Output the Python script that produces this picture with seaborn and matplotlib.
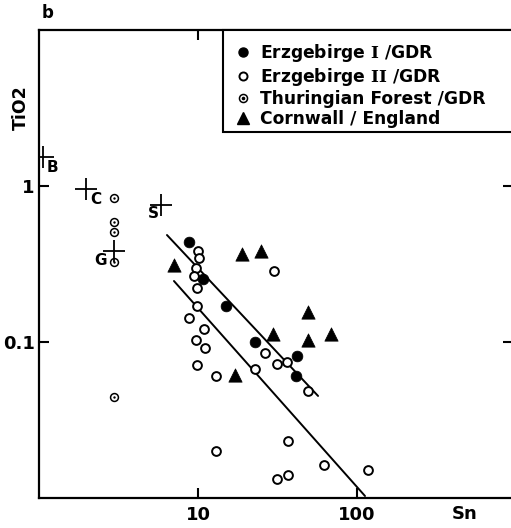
import numpy as np
import pandas as pd
import matplotlib
matplotlib.use("Agg")
import matplotlib.pyplot as plt
from matplotlib.lines import Line2D
from matplotlib.patches import Rectangle
from matplotlib.legend_handler import HandlerTuple
from matplotlib.ticker import FixedLocator, FixedFormatter, NullLocator
import seaborn as sns

# Sn (ppm) vs TiO2 (wt%) of granites
sn_erz1 = [8.8, 10.8, 15.0, 22.8, 42.1, 41.3]
tio2_erz1 = [0.44, 0.253, 0.169, 0.0995, 0.081, 0.0603]

sn_erz2 = [9.96, 10.15, 9.71, 9.48, 9.86, 9.9, 8.78, 10.96, 9.67, 11.1, 9.86, 12.9,
           30.1, 26.5, 31.4, 36.1, 22.7, 49.5, 13.0, 37.0, 31.5, 36.8, 61.8, 117.0]
tio2_erz2 = [0.381, 0.344, 0.297, 0.264, 0.221, 0.171, 0.143, 0.121, 0.1025, 0.0916,
             0.0715, 0.0603, 0.285, 0.0854, 0.072, 0.0748, 0.0671, 0.0482, 0.0201,
             0.0233, 0.0132, 0.0141, 0.0163, 0.0152]

sn_thur = [2.95, 2.95, 2.95, 2.95, 2.95]
tio2_thur = [0.838, 0.59, 0.507, 0.324, 0.0444]

sn_corn = [7.03, 18.9, 25.0, 49.0, 29.8, 49.0, 68.9, 17.1]
tio2_corn = [0.313, 0.365, 0.383, 0.156, 0.112, 0.1035, 0.1125, 0.0617]

# reference compositions
ref_names = ["B", "C", "S", "G"]
ref_sn = [1.06, 1.98, 5.85, 2.98]
ref_tio2 = [1.53, 0.956, 0.759, 0.385]
ref_label_offsets = [(9, -10), (10, -10), (-8, -9), (-14, -10)]

# trend lines (end points)
upper_sn = [6.38, 56.9]
upper_tio2 = [0.485, 0.0451]
lower_sn = [7.06, 112.3]
lower_tio2 = [0.246, 0.0103]

x_ticks = [10, 100]
x_ticklabels = ["10", "100"]
y_ticks = [0.1, 1]
y_ticklabels = ["0.1", "1"]

legend_labels = [r"Erzgebirge $\mathrm{I}$ /GDR",
                 r"Erzgebirge $\mathrm{II}$ /GDR",
                 "Thuringian Forest /GDR",
                 "Cornwall / England"]

sns.set_style("ticks")
k = "black"
plt.rcParams.update({
    "font.family": ["DejaVu Sans"],
    "font.weight": "bold",
    "mathtext.fontset": "custom",
    "mathtext.rm": "DejaVu Serif:bold",
    "text.color": k,
    "axes.labelcolor": k,
    "xtick.color": k,
    "ytick.color": k,
    "axes.edgecolor": k,
})

fig = plt.figure(figsize=(5.11, 5.28), dpi=100)
W, H = 511, 528
ax = fig.add_axes([39 / W, 30 / H, (513 - 39) / W, (498 - 30) / H])
ax.set_xscale("log")
ax.set_yscale("log")

sns.lineplot(x=upper_sn, y=upper_tio2, ax=ax, color=k, lw=1.4, zorder=2,
             legend=False, sort=False)
sns.lineplot(x=lower_sn, y=lower_tio2, ax=ax, color=k, lw=1.4, zorder=2,
             legend=False, sort=False)

sns.scatterplot(x=sn_erz1, y=tio2_erz1, ax=ax, marker="o", s=60, color=k,
                edgecolor=k, linewidth=0.5, zorder=4, legend=False)
sns.scatterplot(x=sn_erz2, y=tio2_erz2, ax=ax, marker="o", s=40, facecolor="white",
                edgecolor=k, linewidth=1.4, zorder=3, legend=False)
sns.scatterplot(x=sn_thur, y=tio2_thur, ax=ax, marker="o", s=32, facecolor="white",
                edgecolor=k, linewidth=1.1, zorder=3, legend=False)
sns.scatterplot(x=sn_thur, y=tio2_thur, ax=ax, marker="o", s=3, color=k,
                edgecolor=k, linewidth=0, zorder=4, legend=False)
sns.scatterplot(x=sn_corn, y=tio2_corn, ax=ax, marker="^", s=92, color=k,
                edgecolor=k, linewidth=0.5, zorder=4, legend=False)
sns.scatterplot(x=ref_sn, y=ref_tio2, ax=ax, marker="+", s=230, color=k,
                linewidth=1.3, zorder=4, legend=False)

for name, xv, yv, off in zip(ref_names, ref_sn, ref_tio2, ref_label_offsets):
    ax.annotate(name, (xv, yv), xytext=off, textcoords="offset pixels",
                ha="center", va="center", fontsize=11, fontweight="bold")

ax.set_xlim(1, 10 ** ((513 - 39) / 159))
ax.set_ylim(0.01, 10)

ax.xaxis.set_major_locator(FixedLocator(x_ticks))
ax.xaxis.set_major_formatter(FixedFormatter(x_ticklabels))
ax.yaxis.set_major_locator(FixedLocator(y_ticks))
ax.yaxis.set_major_formatter(FixedFormatter(y_ticklabels))
ax.xaxis.set_minor_locator(NullLocator())
ax.yaxis.set_minor_locator(NullLocator())
ax.tick_params(which="major", direction="in", length=7, width=1.5,
               top=True, right=True, labelsize=13, pad=6, color=k, labelcolor=k)
ax.tick_params(axis="y", pad=3)
for sp in ax.spines.values():
    sp.set_linewidth(1.6)
    sp.set_color(k)

ax.set_xlabel("")
ax.set_ylabel("")
fig.text(465 / W, 1 - 514 / H, "Sn", ha="center", va="center", fontsize=13,
         fontweight="bold")
fig.text(21 / W, 1 - 108 / H, "TiO2", ha="center", va="center", fontsize=12.5,
         fontweight="bold", rotation=90)
fig.text(48 / W, 1 - 13 / H, "b", ha="center", va="center", fontsize=12,
         fontweight="bold")

# legend box: framed panel in the upper right corner of the plot
ax.add_patch(Rectangle((223 / W, 1 - 132 / H), (513 - 223) / W, (132 - 30) / H,
                       transform=fig.transFigure, facecolor="white",
                       edgecolor=k, linewidth=1.5, zorder=9, clip_on=False))

h_erz1 = Line2D([], [], marker="o", ls="", color=k, markersize=6.5)
h_erz2 = Line2D([], [], marker="o", ls="", markerfacecolor="white",
                markeredgecolor=k, markeredgewidth=1.4, markersize=5.8)
h_thur = (Line2D([], [], marker="o", ls="", markerfacecolor="white",
                 markeredgecolor=k, markeredgewidth=1.1, markersize=5.8),
          Line2D([], [], marker="o", ls="", color=k, markersize=1.6))
h_corn = Line2D([], [], marker="^", ls="", color=k, markersize=8)

leg = ax.legend([h_erz1, h_erz2, h_thur, h_corn], legend_labels,
                loc="upper left", bbox_to_anchor=(232 / W, 1 - 41.5 / H),
                bbox_transform=fig.transFigure, borderaxespad=0, borderpad=0,
                frameon=False, fontsize=12.3, handlelength=1.3,
                handletextpad=0.35, labelspacing=0.12,
                handler_map={tuple: HandlerTuple(ndivide=1, pad=0)})
leg.set_zorder(10)

fig.savefig("out.png", dpi=100, facecolor="white")
